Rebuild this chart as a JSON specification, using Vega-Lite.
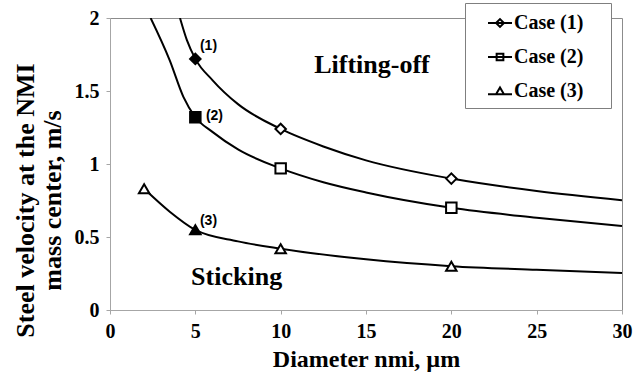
{
  "$schema": "https://vega.github.io/schema/vega-lite/v6.json",
  "width": 512,
  "height": 292,
  "autosize": {"type": "none"},
  "padding": {"left": 110, "top": 18, "right": 11, "bottom": 69},
  "background": "white",
  "config": {
    "view": {"stroke": "#8c8c8c", "strokeWidth": 1}
  },
  "datasets": {
    "curves": [
      {"case": "Case (1)", "d": 4.1, "v": 2.0},
      {"case": "Case (1)", "d": 4.5, "v": 1.85},
      {"case": "Case (1)", "d": 5, "v": 1.72},
      {"case": "Case (1)", "d": 6, "v": 1.575},
      {"case": "Case (1)", "d": 7.5, "v": 1.41},
      {"case": "Case (1)", "d": 10, "v": 1.24},
      {"case": "Case (1)", "d": 12.5, "v": 1.12},
      {"case": "Case (1)", "d": 15, "v": 1.025},
      {"case": "Case (1)", "d": 20, "v": 0.9},
      {"case": "Case (1)", "d": 25, "v": 0.815},
      {"case": "Case (1)", "d": 30, "v": 0.752},
      {"case": "Case (2)", "d": 2.38, "v": 2.0},
      {"case": "Case (2)", "d": 3.5, "v": 1.71},
      {"case": "Case (2)", "d": 4.3, "v": 1.46},
      {"case": "Case (2)", "d": 5, "v": 1.32},
      {"case": "Case (2)", "d": 6, "v": 1.22},
      {"case": "Case (2)", "d": 7.5, "v": 1.1},
      {"case": "Case (2)", "d": 10, "v": 0.97},
      {"case": "Case (2)", "d": 12.5, "v": 0.875},
      {"case": "Case (2)", "d": 15, "v": 0.805},
      {"case": "Case (2)", "d": 20, "v": 0.7},
      {"case": "Case (2)", "d": 25, "v": 0.632},
      {"case": "Case (2)", "d": 30, "v": 0.575},
      {"case": "Case (3)", "d": 2, "v": 0.83},
      {"case": "Case (3)", "d": 3.5, "v": 0.673},
      {"case": "Case (3)", "d": 5, "v": 0.548},
      {"case": "Case (3)", "d": 7.5, "v": 0.47},
      {"case": "Case (3)", "d": 10, "v": 0.42},
      {"case": "Case (3)", "d": 15, "v": 0.347},
      {"case": "Case (3)", "d": 20, "v": 0.3},
      {"case": "Case (3)", "d": 25, "v": 0.275},
      {"case": "Case (3)", "d": 30, "v": 0.254}
    ],
    "markers": [
      {"case": "Case (1)", "d": 5, "v": 1.72, "filled": "yes"},
      {"case": "Case (1)", "d": 10, "v": 1.24, "filled": "no"},
      {"case": "Case (1)", "d": 20, "v": 0.9, "filled": "no"},
      {"case": "Case (2)", "d": 5, "v": 1.32, "filled": "yes"},
      {"case": "Case (2)", "d": 10, "v": 0.97, "filled": "no"},
      {"case": "Case (2)", "d": 20, "v": 0.7, "filled": "no"},
      {"case": "Case (3)", "d": 2, "v": 0.83, "filled": "no"},
      {"case": "Case (3)", "d": 5, "v": 0.55, "filled": "yes"},
      {"case": "Case (3)", "d": 10, "v": 0.42, "filled": "no"},
      {"case": "Case (3)", "d": 20, "v": 0.3, "filled": "no"}
    ],
    "tags": [
      {"d": 5.27, "v": 1.81, "label": "(1)"},
      {"d": 5.62, "v": 1.33, "label": "(2)"},
      {"d": 5.27, "v": 0.61, "label": "(3)"}
    ],
    "regions": [
      {"d": 15.35, "v": 1.625, "label": "Lifting-off"},
      {"d": 7.42, "v": 0.171, "label": "Sticking"}
    ]
  },
  "encoding": {
    "x": {
      "field": "d",
      "type": "quantitative",
      "scale": {"domain": [0, 30], "nice": false},
      "axis": {
        "values": [0, 5, 10, 15, 20, 25, 30],
        "grid": false,
        "domainColor": "#a6a6a6",
        "tickColor": "#a6a6a6",
        "tickSize": 4,
        "labelFont": "Liberation Serif",
        "labelFontWeight": "bold",
        "labelFontSize": 20,
        "labelColor": "black",
        "labelPadding": 7,
        "labelFlush": false,
        "title": "Diameter nmi, µm",
        "titleFont": "Liberation Serif",
        "titleFontWeight": "bold",
        "titleFontSize": 24,
        "titleColor": "black",
        "titlePadding": 6
      }
    },
    "y": {
      "field": "v",
      "type": "quantitative",
      "scale": {"domain": [0, 2], "nice": false},
      "axis": {
        "values": [0, 0.5, 1, 1.5, 2],
        "format": "~g",
        "grid": false,
        "domainColor": "#a6a6a6",
        "tickColor": "#a6a6a6",
        "tickSize": 4,
        "labelFont": "Liberation Serif",
        "labelFontWeight": "bold",
        "labelFontSize": 20,
        "labelColor": "black",
        "labelPadding": 7,
        "labelFlush": false,
        "title": ["Steel velocity at the NMI", "mass center, m/s"],
        "titleFont": "Liberation Serif",
        "titleFontWeight": "bold",
        "titleFontSize": 26,
        "titleColor": "black",
        "titleLineHeight": 27,
        "titleAngle": -90,
        "titleAlign": "center",
        "titleBaseline": "middle",
        "titleX": -85,
        "titleY": 182
      }
    }
  },
  "resolve": {"scale": {"shape": "independent"}, "legend": {"shape": "independent"}},
  "layer": [
    {
      "data": {"name": "curves"},
      "mark": {"type": "line", "interpolate": "monotone", "color": "black", "strokeWidth": 2, "clip": true},
      "encoding": {"detail": {"field": "case", "type": "nominal"}}
    },
    {
      "data": {"name": "markers"},
      "mark": {"type": "point", "stroke": "black", "strokeWidth": 2, "opacity": 1, "size": 110},
      "encoding": {
        "shape": {
          "field": "case",
          "type": "nominal",
          "scale": {"domain": ["Case (1)", "Case (2)", "Case (3)"], "range": ["diamond", "square", "triangle-up"]},
          "legend": null
        },
        "fill": {
          "field": "filled",
          "type": "nominal",
          "scale": {"domain": ["yes", "no"], "range": ["black", "white"]},
          "legend": null
        }
      }
    },
    {
      "data": {"name": "markers"},
      "transform": [{"filter": "false"}],
      "mark": {"type": "point", "stroke": "black", "strokeWidth": 2, "opacity": 1, "filled": false},
      "encoding": {
        "shape": {
          "field": "case",
          "type": "nominal",
          "scale": {
            "domain": ["Case (1)", "Case (2)", "Case (3)"],
            "range": [
              "M-1,0H1M-0.33,0L0,-0.33L0.33,0L0,0.33Z",
              "M-1,0H1M-0.28,-0.28H0.28V0.28H-0.28Z",
              "M-1,0.28H1M-0.33,0.28L0,-0.3L0.33,0.28Z"
            ]
          },
          "legend": {
            "title": "MM",
            "titleOrient": "right",
            "titleAngle": 0,
            "titleOpacity": 0,
            "titleFontSize": 10,
            "titlePadding": 4,
            "orient": "none",
            "legendX": 355,
            "legendY": -15,
            "fillColor": "white",
            "strokeColor": "#7f7f7f",
            "padding": 7,
            "symbolOffset": 15,
            "symbolSize": 576,
            "symbolStrokeWidth": 2,
            "symbolStrokeColor": "black",
            "symbolFillColor": "white",
            "symbolOpacity": 1,
            "rowPadding": 11,
            "labelOffset": 1,
            "labelFont": "Liberation Serif",
            "labelFontWeight": "bold",
            "labelFontSize": 20,
            "labelColor": "black"
          }
        }
      }
    },
    {
      "data": {"name": "tags"},
      "mark": {"type": "text", "align": "left", "baseline": "middle", "font": "Liberation Sans", "fontWeight": "bold", "fontSize": 14, "color": "black"},
      "encoding": {"text": {"field": "label", "type": "nominal"}}
    },
    {
      "data": {"name": "regions"},
      "mark": {"type": "text", "align": "center", "baseline": "alphabetic", "font": "Liberation Serif", "fontWeight": "bold", "fontSize": 26, "color": "black"},
      "encoding": {"text": {"field": "label", "type": "nominal"}}
    }
  ]
}
